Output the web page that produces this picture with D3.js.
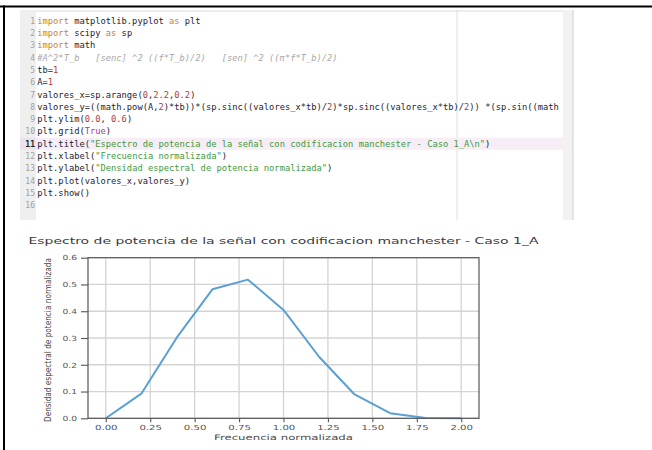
<!DOCTYPE html>
<html><head><meta charset="utf-8">
<script src="https://cdn.jsdelivr.net/npm/d3@7"></script>
<style>
html,body{margin:0;padding:0;background:#fff;}
svg{display:block;}
</style></head>
<body>
<svg id="c" width="652" height="450"></svg>
<script>
// ---- data ----
const freq = [0, 0.2, 0.4, 0.6, 0.8, 1.0, 1.2, 1.4, 1.6, 1.8, 2.0];
const density = [0, 0.092, 0.302, 0.482, 0.518, 0.405, 0.230, 0.089, 0.019, 0.001, 0];
const xTicks = [0, 0.25, 0.5, 0.75, 1.0, 1.25, 1.5, 1.75, 2.0];
const xTickLabels = ["0.00","0.25","0.50","0.75","1.00","1.25","1.50","1.75","2.00"];
const yTicks = [0, 0.1, 0.2, 0.3, 0.4, 0.5, 0.6];
const yTickLabels = ["0.0","0.1","0.2","0.3","0.4","0.5","0.6"];
const chartTitle = "Espectro de potencia de la señal con codificacion manchester - Caso 1_A";
const xLabel = "Frecuencia normalizada";
const yLabel = "Densidad espectral de potencia normalizada";
const codeLines = [
 [["import","kw"],[" matplotlib.pyplot ",""],["as","kw"],[" plt",""]],
 [["import","kw"],[" scipy ",""],["as","kw"],[" sp",""]],
 [["import","kw"],[" math",""]],
 [["#A^2*T_b   [senc] ^2 ((f*T_b)/2)   [sen] ^2 ((π*f*T_b)/2)","cm"]],
 [["tb=",""],["1","num"]],
 [["A=",""],["1","num"]],
 [["valores_x=sp.arange(",""],["0","num"],[",",""],["2.2","num"],[",",""],["0.2","num"],[")",""]],
 [["valores_y=((math.pow(A,",""],["2","num"],[")*tb))*(sp.sinc((valores_x*tb)/",""],["2","num"],[")*sp.sinc((valores_x*tb)/",""],["2","num"],[")) *(sp.sin((math",""]],
 [["plt.ylim(",""],["0.0","num"],[", ",""],["0.6","num"],[")",""]],
 [["plt.grid(",""],["True","kwc"],[")",""]],
 [["plt.title(",""],["\"Espectro de potencia de la señal con codificacion manchester - Caso 1_A\\n\"","str"],[")",""]],
 [["plt.xlabel(",""],["\"Frecuencia normalizada\"","str"],[")",""]],
 [["plt.ylabel(",""],["\"Densidad espectral de potencia normalizada\"","str"],[")",""]],
 [["plt.plot(valores_x,valores_y)",""]],
 [["plt.show()",""]],
 []
];
const tokenColors = {"":"#232333", kw:"#c9822e", num:"#b23a3a", str:"#3e9a3e", kwc:"#9a3cb0", cm:"#a8a8a8"};

// ---- drawing ----
(function(){
const svg = d3.select("#c");
const defs = svg.append("defs");

// outer frame lines
svg.append("rect").attr("x",0).attr("y",5.5).attr("width",652).attr("height",2).attr("fill","#000");
svg.append("rect").attr("x",3).attr("y",5.5).attr("width",2).attr("height",445).attr("fill","#000");

// code editor panel
const ed = svg.append("g");
ed.append("rect").attr("x",20).attr("y",10).attr("width",553).attr("height",210).attr("fill","#fff");
ed.append("rect").attr("x",20).attr("y",10).attr("width",553).attr("height",2).attr("fill","#ececec");
ed.append("rect").attr("x",20).attr("y",10).attr("width",16).attr("height",210).attr("fill","#efefef");
ed.append("rect").attr("x",563).attr("y",10).attr("width",10).attr("height",210).attr("fill","#f2f2f2");
ed.append("line").attr("x1",573).attr("x2",573).attr("y1",10).attr("y2",220).attr("stroke","#cfcfcf").attr("stroke-width",1);
ed.append("line").attr("x1",457).attr("x2",457).attr("y1",10).attr("y2",220).attr("stroke","#dedede").attr("stroke-width",1);

const lineY = d3.scaleLinear().domain([0, 15]).range([20.7, 205.2]);
// highlighted current line (11)
ed.append("rect").attr("x",20).attr("y",lineY(10)-6).attr("width",543).attr("height",12).attr("fill","#f6edf6");
ed.append("rect").attr("x",20).attr("y",lineY(10)-6).attr("width",16).attr("height",12).attr("fill","#ebe3eb");

defs.append("clipPath").attr("id","codeclip").append("rect").attr("x",20).attr("y",10).attr("width",543).attr("height",210);
const codeG = ed.append("g").attr("clip-path","url(#codeclip)");
const mono = "DejaVu Sans Mono, Liberation Mono, monospace";

codeLines.forEach((toks, i) => {
  const yy = lineY(i) + 3;
  codeG.append("text").attr("x",35).attr("y",yy)
    .attr("text-anchor","end")
    .attr("font-family",mono)
    .attr("font-size", 8)
    .attr("font-weight", i === 10 ? "bold" : "normal")
    .attr("fill", i === 10 ? "#222" : "#a0a0a0")
    .text(i + 1);
  const t = codeG.append("text").attr("x",37.3).attr("y",yy)
    .attr("font-family",mono)
    .attr("font-size", 8.75)
    .style("white-space","pre");
  toks.forEach(([s, k]) => {
    t.append("tspan").attr("fill", tokenColors[k])
      .attr("font-style", k === "cm" ? "italic" : "normal")
      .text(s);
  });
});

// ---- chart ----
const pL = 88, pR = 479, pT = 257.7, pB = 418.3;
const x = d3.scaleLinear().domain([-0.1, 2.1]).range([pL, pR]);
const y = d3.scaleLinear().domain([0, 0.6]).range([pB, pT]);
const chart = svg.append("g");
const font = "DejaVu Sans, sans-serif";

function stretch(sel, factor) {
  sel.each(function() {
    const w = this.getComputedTextLength();
    d3.select(this).attr("textLength", w * factor).attr("lengthAdjust","spacingAndGlyphs");
  });
}

// grid
chart.append("g").selectAll("line").data(xTicks).join("line")
  .attr("x1", d => x(d)).attr("x2", d => x(d)).attr("y1", pT).attr("y2", pB)
  .attr("stroke","#d4d4d4").attr("stroke-width",1.3);
chart.append("g").selectAll("line").data(yTicks).join("line")
  .attr("x1", pL).attr("x2", pR).attr("y1", d => y(d)).attr("y2", d => y(d))
  .attr("stroke","#d4d4d4").attr("stroke-width",1.3);

// data line
chart.append("path").datum(freq.map((f, i) => [f, density[i]]))
  .attr("fill","none").attr("stroke","#5c9fd3").attr("stroke-width",2)
  .attr("stroke-linejoin","round")
  .attr("d", d3.line().x(d => x(d[0])).y(d => y(d[1])));

// axes via d3
const xAxis = chart.append("g").attr("transform",`translate(0,${pB})`)
  .call(d3.axisBottom(x).tickValues(xTicks).tickFormat((d, i) => xTickLabels[i]).tickSize(4).tickPadding(3).tickSizeOuter(0));
const yAxis = chart.append("g").attr("transform",`translate(${pL},0)`)
  .call(d3.axisLeft(y).tickValues(yTicks).tickFormat((d, i) => yTickLabels[i]).tickSize(7).tickPadding(4).tickSizeOuter(0));
[xAxis, yAxis].forEach(a => {
  a.select(".domain").remove();
  a.selectAll(".tick line").attr("stroke","#555").attr("stroke-width",1.1);
  a.selectAll(".tick text").attr("font-family",font).attr("font-size",7).attr("fill","#555");
});
stretch(xAxis.selectAll(".tick text"), 1.45);
stretch(yAxis.selectAll(".tick text"), 1.3);

// spines
chart.append("rect").attr("x",pL).attr("y",pT).attr("width",pR-pL).attr("height",pB-pT)
  .attr("fill","none").attr("stroke","#555").attr("stroke-width",1.2);

// title
chart.append("text").attr("x",(pL+pR)/2).attr("y",243.5).attr("text-anchor","middle")
  .attr("font-family",font).attr("font-size",9.5).attr("fill","#3a3a3a").text(chartTitle)
  .attr("textLength",510).attr("lengthAdjust","spacingAndGlyphs");

// x label
chart.append("text").attr("x",(pL+pR)/2).attr("y",439.5).attr("text-anchor","middle")
  .attr("font-family",font).attr("font-size",7.5).attr("fill","#4a4a4a").text(xLabel)
  .attr("textLength",139).attr("lengthAdjust","spacingAndGlyphs");

// y label
chart.append("text").attr("transform",`translate(51,${(pT+pB)/2 + 2}) rotate(-90)`)
  .attr("text-anchor","middle")
  .attr("font-family",font).attr("font-size",8).attr("fill","#444").text(yLabel)
  .attr("textLength",164).attr("lengthAdjust","spacingAndGlyphs");
})();
</script>
</body></html>
